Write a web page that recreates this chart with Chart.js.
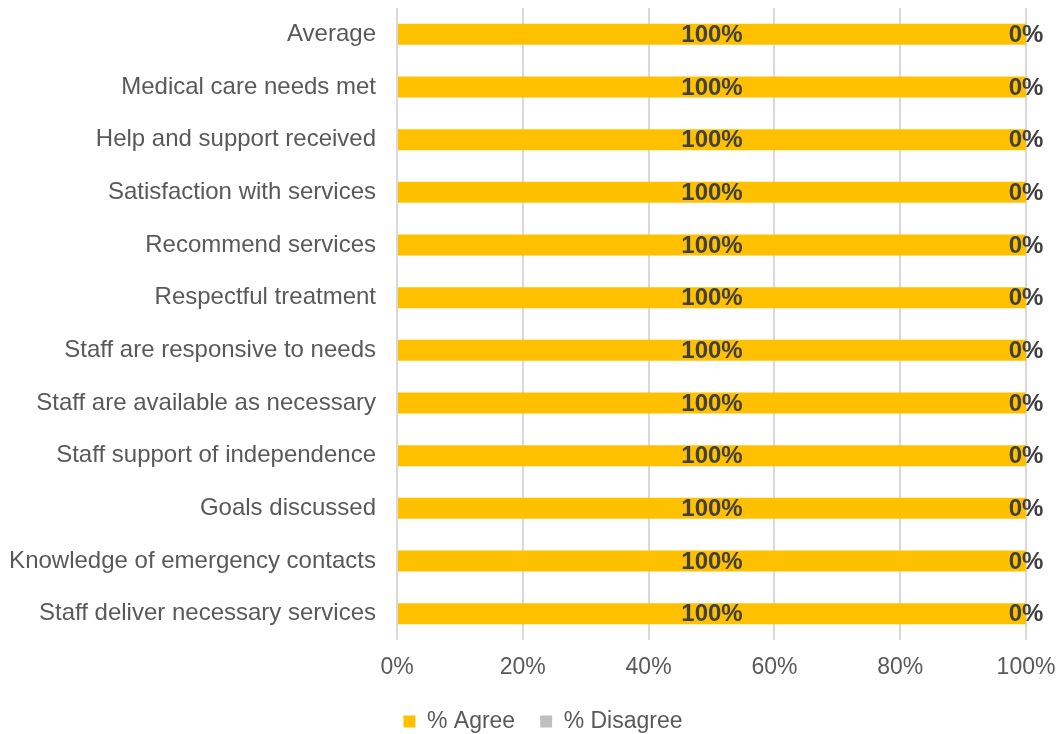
<!DOCTYPE html>
<html><head><meta charset="utf-8">
<script src="https://cdn.jsdelivr.net/npm/chart.js@4/dist/chart.umd.min.js"></script>
<style>html,body{margin:0;padding:0;background:#fff}#wrap{width:1060px;height:734px}</style>
</head><body><div id="wrap"><canvas id="c" width="1060" height="734"></canvas></div>
<script>
const categories = ["Average","Medical care needs met","Help and support received","Satisfaction with services","Recommend services","Respectful treatment","Staff are responsive to needs","Staff are available as necessary","Staff support of independence","Goals discussed","Knowledge of emergency contacts","Staff deliver necessary services"];
const agree = [100,100,100,100,100,100,100,100,100,100,100,100];
const disagree = [0,0,0,0,0,0,0,0,0,0,0,0];
const xTicks = ["0%","20%","40%","60%","80%","100%"];

const FONT = '"Liberation Sans", Arial, sans-serif';

const labelPlugin = {
  id:'labels',
  afterLayout(chart){
    const lg = chart.legend;
    if (lg) { lg.left += 30; lg.right += 30; }
  },
  afterDatasetsDraw(chart){
    const ctx = chart.ctx;
    ctx.save();
    ctx.font = 'bold 24px ' + FONT;
    ctx.fillStyle = '#404040';
    ctx.textAlign = 'center';
    ctx.textBaseline = 'middle';
    chart.data.datasets.forEach((ds, di) => {
      const meta = chart.getDatasetMeta(di);
      meta.data.forEach((el, i) => {
        const v = ds.data[i];
        const x = (el.x + el.base) / 2;
        ctx.fillText(v + '%', x, el.y + 1);
      });
    });
    ctx.restore();
  }
};

new Chart(document.getElementById('c'), {
  type:'bar',
  data:{
    labels: categories,
    datasets:[
      {label:'% Agree', data: agree, backgroundColor:'#FFC000', barPercentage:0.4, categoryPercentage:1},
      {label:'% Disagree', data: disagree, backgroundColor:'#BFBFBF', barPercentage:0.4, categoryPercentage:1}
    ]
  },
  options:{
    indexAxis:'y',
    responsive:false,
    animation:false,
    layout:{padding:{top:8,right:34,left:0,bottom:-9}},
    plugins:{
      legend:{position:'bottom', labels:{boxWidth:12, boxHeight:12, color:'#595959', font:{size:23, family:FONT}, padding:25}},
      tooltip:{enabled:false}
    },
    scales:{
      x:{stacked:true, min:0, max:100,
        afterFit:(s)=>{ s.paddingLeft = 0; s.paddingRight = 0; s.height = 45; },
        ticks:{stepSize:20, color:'#595959', font:{size:23, family:FONT}, padding:14, maxRotation:0, callback:(v,i)=>xTicks[i]},
        grid:{color:'#D9D9D9', lineWidth:2, drawTicks:false},
        border:{display:false}
      },
      y:{stacked:true,
        afterFit:(s)=>{ s.width = 397; s.paddingTop = 0; s.paddingBottom = 0; },
        ticks:{color:'#595959', font:{size:24, family:FONT}, padding:21},
        grid:{display:false, drawTicks:false},
        border:{display:false}
      }
    }
  },
  plugins:[labelPlugin]
});
</script></body></html>
